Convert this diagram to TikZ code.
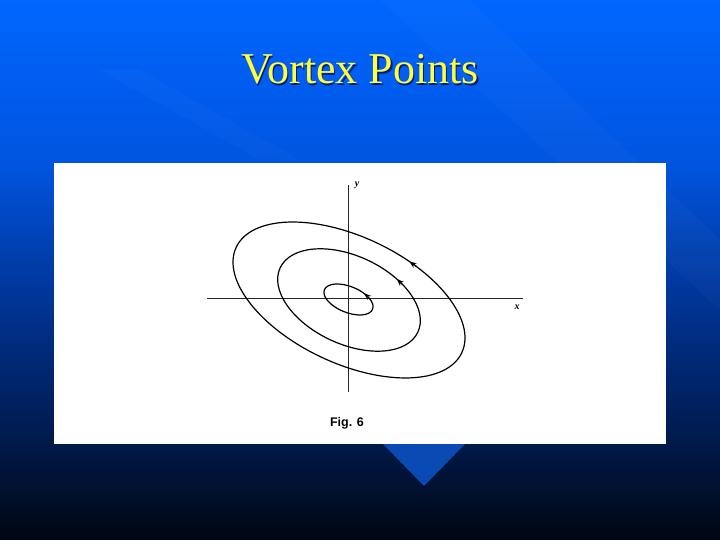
\documentclass[tikz,border=0pt]{standalone}
\usepackage{fontspec}
\setmainfont{Liberation Serif}
\newfontfamily\figsans{Liberation Sans}
\usetikzlibrary{arrows.meta}
\definecolor{bgT}{RGB}{0,102,255}
\definecolor{bgA}{RGB}{0,85,225}
\definecolor{bgB}{RGB}{0,52,150}
\definecolor{bgC}{RGB}{0,26,75}
\definecolor{bgD}{RGB}{0,6,18}
\definecolor{triblue}{RGB}{10,74,180}
\definecolor{titleyellow}{RGB}{255,255,60}
\pgfdeclareverticalshading{slidebg}{100bp}{
  color(0bp)=(bgD);
  color(25bp)=(bgD);
  color(34.3bp)=(bgC);
  color(47.2bp)=(bgB);
  color(60.2bp)=(bgA);
  color(75bp)=(bgT);
  color(100bp)=(bgT)
}
\tikzset{
  orbit/.style={line width=1.2pt, black},
  axisline/.style={line width=0.7pt, black!85},
  tip/.style={-{Stealth[length=7pt,width=5.5pt]}, line width=1.2pt, black},
  axlabel/.style={font=\bfseries\itshape\fontsize{10}{10}\selectfont, inner sep=0pt}
}
\begin{document}
\begin{tikzpicture}[x=1pt,y=1pt]
\useasboundingbox (0,0) rectangle (720,540);
\shade[shading=slidebg] (0,0) rectangle (720,540);
% faint diagonal streaks
\fill[white, opacity=0.025] (380,540) -- (470,540) -- (720,300) -- (720,230) -- cycle;
\fill[white, opacity=0.02] (100,470) -- (140,470) -- (300,380) -- (260,380) -- cycle;
% triangle under box
\fill[triblue] (383,96) coordinate (t1) -- (465,96) coordinate (t2) -- (424,54) coordinate (t3) -- cycle;
% white figure panel
\fill[white] (54,96) rectangle (666,377);
% title
\node[anchor=base, font=\fontsize{44}{44}\selectfont, text=black!70!blue, opacity=0.7] (titlesh) at (361.5,454.5) {Vortex Points};
\node[anchor=base, font=\fontsize{44}{44}\selectfont, text=titleyellow] (title) at (360,456) {Vortex Points};
% axes
\coordinate (xl) at (207,242);
\coordinate (xr) at (523,242);
\coordinate (yb) at (348,148);
\coordinate (yt) at (348,355);
\draw[axisline] (xl) -- (xr);
\draw[axisline] (yb) -- (yt);
\node[axlabel] (ylab) at (357,355) {y};
\node[axlabel] (xlab) at (517,233) {x};
% orbits
\begin{scope}[shift={(349,240)}, rotate=-25]
  \draw[orbit] (0,0) ellipse (124.5 and 63.5);
  \draw[tip] ({124.5*cos(68)},{63.5*sin(68)}) -- ({124.5*cos(72)},{63.5*sin(72)});
  \draw[orbit] (0,0) ellipse (76 and 44);
  \draw[tip] ({76*cos(57)},{44*sin(57)}) -- ({76*cos(63)},{44*sin(63)});
\end{scope}
\begin{scope}[shift={(348.5,240.5)}, rotate=-22]
  \draw[orbit] (0,0) ellipse (26 and 13);
  \draw[tip] ({26*cos(50)},{13*sin(50)}) -- ({26*cos(62)},{13*sin(62)});
\end{scope}
% caption
\node[font=\figsans\bfseries\fontsize{12.5}{12.5}\selectfont] (cap) at (347,117) {Fig. 6};
\end{tikzpicture}
\end{document}
